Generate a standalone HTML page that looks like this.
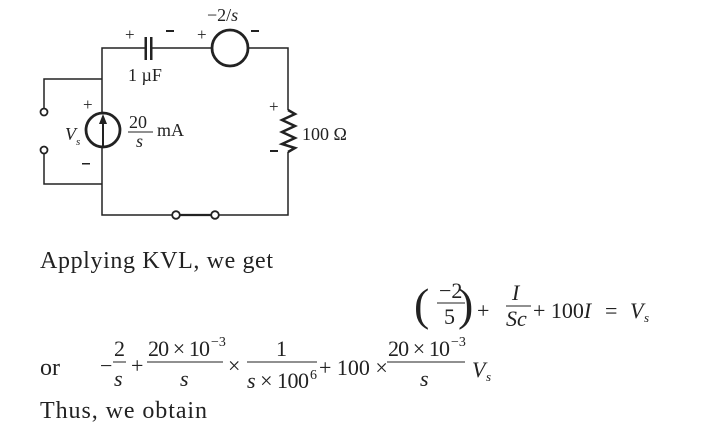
<!DOCTYPE html>
<html><head><meta charset="utf-8"><style>
html,body{margin:0;padding:0;background:#fff;width:724px;height:437px;overflow:hidden}
svg text{font-family:"Liberation Serif",serif;fill:#222}
</style></head><body>
<svg width="724" height="437" viewBox="0 0 724 437" xmlns="http://www.w3.org/2000/svg">
<g stroke="#222" stroke-width="1.5" fill="none">
<polyline points="145,48 102,48 102,112"/>
<line x1="151" y1="48" x2="212" y2="48"/>
<polyline points="248,48 288,48 288,110"/>
<polyline points="288,110 295,114 282,120 295,126 282,132 295,138 282,144 295,148 288,152" stroke-width="2.5"/>
<polyline points="288,152 288,215 219,215"/>
<line x1="180" y1="215" x2="211" y2="215" stroke-width="2.2"/>
<polyline points="172,215 102,215 102,148"/>
<circle cx="230" cy="48" r="18" stroke-width="2.8"/>
<circle cx="103" cy="130" r="17" stroke-width="2.8"/>
<line x1="103" y1="148" x2="103" y2="120" stroke-width="2"/>
<polyline points="44,108 44,79 102,79"/>
<polyline points="44,154 44,184 102,184"/>
<circle cx="44" cy="112" r="3.5" stroke-width="1.8"/>
<circle cx="44" cy="150" r="3.5" stroke-width="1.8"/>
<circle cx="176" cy="215" r="3.8" stroke-width="1.8"/>
<circle cx="215" cy="215" r="3.8" stroke-width="1.8"/>
</g>
<rect x="144.5" y="37" width="2.5" height="23" fill="#222"/>
<rect x="150" y="37" width="2.5" height="23" fill="#222"/>
<polygon points="103,114 99,124 107,124" fill="#222"/>
<g font-size="17">
<text x="125" y="40">+</text><rect x="166" y="30" width="8" height="2" fill="#222"/>
<text x="197" y="40">+</text><rect x="251" y="30" width="8" height="2" fill="#222"/>
<text x="207" y="21" font-size="18">−2/<tspan font-style="italic">s</tspan></text>
<text x="128" y="81" font-size="18">1 µF</text>
<text x="83" y="110">+</text><rect x="82" y="163" width="8" height="1.5" fill="#222"/>
<text x="65" y="140" font-style="italic" font-size="18">V</text><text x="76" y="145" font-style="italic" font-size="11">s</text>
<text x="129" y="128" font-size="18">20</text><line x1="128" y1="132" x2="153" y2="132" stroke="#222" stroke-width="1"/>
<text x="136" y="147" font-style="italic" font-size="18">s</text>
<text x="157" y="136" font-size="18">mA</text>
<text x="269" y="112">+</text><rect x="270" y="150" width="8" height="2" fill="#222"/>
<text x="302" y="140" font-size="18">100 Ω</text>
</g>
<g font-size="24">
<text x="40" y="268" textLength="233">Applying KVL, we get</text>
<text x="40" y="375">or</text>
<text x="40" y="418" textLength="167">Thus, we obtain</text>
</g>
<g font-size="22">
<text x="414" y="320" font-size="46">(</text>
<text x="439" y="298">−2</text><line x1="437" y1="303" x2="465" y2="303" stroke="#222"/>
<text x="444" y="324">5</text>
<text x="458" y="320" font-size="46">)</text>
<text x="477" y="318">+</text>
<text x="512" y="300" font-style="italic">I</text><line x1="506" y1="306" x2="531" y2="306" stroke="#222"/>
<text x="506" y="326" font-style="italic">Sc</text>
<text x="533" y="318">+ 100<tspan font-style="italic">I</tspan></text>
<text x="605" y="318">=</text>
<text x="630" y="318" font-style="italic">V</text><text x="644" y="322" font-style="italic" font-size="13">s</text>

<text x="100" y="373">−</text>
<text x="114" y="356">2</text><line x1="113" y1="362" x2="126" y2="362" stroke="#222"/>
<text x="114" y="386" font-style="italic">s</text>
<text x="131" y="373">+</text>
<text x="148" y="356" textLength="62">20 × 10</text><text x="211" y="346" font-size="14">−3</text>
<line x1="147" y1="362" x2="223" y2="362" stroke="#222"/>
<text x="180" y="386" font-style="italic">s</text>
<text x="228" y="373">×</text>
<text x="276" y="356">1</text><line x1="247" y1="362" x2="317" y2="362" stroke="#222"/>
<text x="247" y="388" textLength="62"><tspan font-style="italic">s</tspan> × 100</text><text x="310" y="379" font-size="14">6</text>
<text x="319" y="375">+ 100 ×</text>
<text x="388" y="356" textLength="62">20 × 10</text><text x="451" y="346" font-size="14">−3</text>
<line x1="387" y1="362" x2="465" y2="362" stroke="#222"/>
<text x="420" y="386" font-style="italic">s</text>
<text x="472" y="377" font-style="italic">V</text><text x="486" y="381" font-style="italic" font-size="13">s</text>
</g>
</svg>
</body></html>
